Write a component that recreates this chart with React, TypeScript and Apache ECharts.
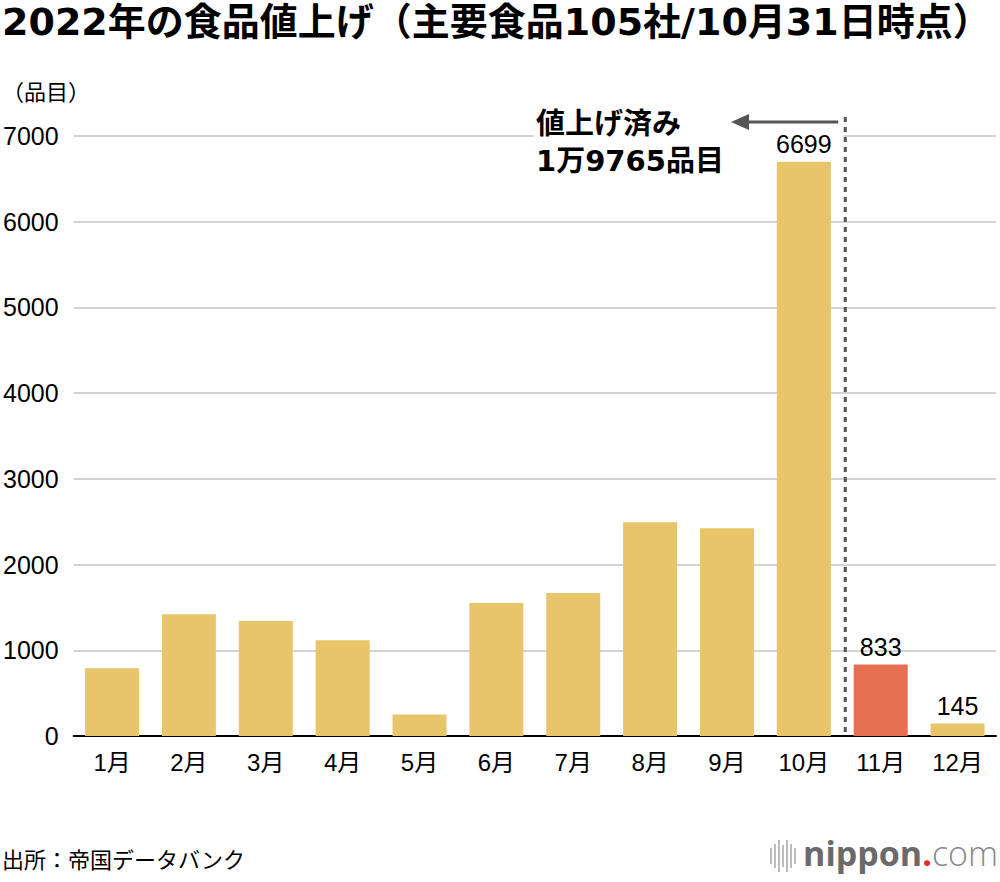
import { useEffect, useRef } from "react";
import * as echarts from "echarts";

const months = ["1月", "2月", "3月", "4月", "5月", "6月", "7月", "8月", "9月", "10月", "11月", "12月"];
const items = [790, 1420, 1342, 1117, 250, 1552, 1669, 2494, 2424, 6699, 833, 145];
const labelledMonths = ["10月", "11月", "12月"];
const highlightMonth = "11月";
const yTicks = { min: 0, max: 7000, interval: 1000 };

const FONT = "'Liberation Sans', 'Noto Sans CJK JP', sans-serif";
const BOLD_FONT = "'DejaVu Sans', 'Noto Sans CJK JP', sans-serif";
const BAR = "#E8C46B";
const RED = "#E57052";

export default function App() {
  const chartRef = useRef<HTMLDivElement>(null);

  useEffect(() => {
    document.body.style.margin = "0";
    const chart = echarts.init(chartRef.current!, null, { renderer: "svg" });

    const option = {
      animation: false,
      textStyle: { fontFamily: FONT },
      grid: { left: 72, right: 4, top: 136, bottom: 146, containLabel: false },
      xAxis: {
        type: "category",
        data: months,
        axisLine: { lineStyle: { color: "#000", width: 2 } },
        axisTick: { show: false },
        axisLabel: { fontSize: 24, color: "#000", margin: 14, fontFamily: FONT },
      },
      yAxis: {
        type: "value",
        ...yTicks,
        axisLine: { show: false },
        axisTick: { show: false },
        axisLabel: {
          fontSize: 25,
          color: "#000",
          margin: 15,
          fontFamily: FONT,
          formatter: (v: number) => String(v),
        },
        splitLine: { lineStyle: { color: "#d4d4d4", width: 2 } },
      },
      series: [
        {
          type: "bar",
          barWidth: 54,
          data: items.map((v, i) => ({
            value: v,
            itemStyle: { color: months[i] === highlightMonth ? RED : BAR },
            label: { show: labelledMonths.includes(months[i]) },
          })),
          label: {
            position: "top",
            distance: 5,
            fontSize: 25,
            color: "#000",
            fontFamily: FONT,
          },
        },
      ],
    };

    chart.setOption(option);

    // divider between October and November
    const p10 = chart.convertToPixel({ xAxisIndex: 0 }, "10月") as number;
    const p11 = chart.convertToPixel({ xAxisIndex: 0 }, "11月") as number;
    const y0 = chart.convertToPixel({ yAxisIndex: 0 }, 0) as number;
    const divX = (p10 + p11) / 2 + 3;

    const iconBars = [
      [0, 16], [4, 24], [8, 32], [12, 22], [16, 32], [20, 24], [24, 16],
    ];

    chart.setOption({
      graphic: [
        {
          type: "text",
          left: 2,
          top: 2,
          style: {
            text: "2022年の食品値上げ（主要食品105社/10月31日時点）",
            fontSize: 38,
            lineHeight: 40,
            fontWeight: "bold",
            fill: "#000",
            fontFamily: BOLD_FONT,
          },
        },
        {
          type: "text",
          left: 2,
          top: 81,
          style: { text: "（品目）", fontSize: 22, fill: "#000", fontFamily: FONT },
        },
        {
          type: "rect",
          z: 1,
          shape: { x: 534, y: 110, width: divX - 536, height: 30 },
          style: { fill: "#fff" },
        },
        {
          type: "line",
          z: 6,
          shape: { x1: divX, y1: 117, x2: divX, y2: y0 },
          style: { stroke: "#555", lineWidth: 3, lineDash: [5, 5] },
        },
        {
          type: "line",
          z: 6,
          shape: { x1: divX - 7, y1: 122, x2: 745, y2: 122 },
          style: { stroke: "#555", lineWidth: 3 },
        },
        {
          type: "polygon",
          z: 6,
          shape: { points: [[731, 122], [749, 114], [749, 130]] },
          style: { fill: "#555" },
        },
        {
          type: "text",
          z: 7,
          left: 536,
          top: 105,
          style: {
            text: "値上げ済み\n1万9765品目",
            fontSize: 29,
            fontWeight: "bold",
            lineHeight: 37,
            fill: "#000",
            fontFamily: BOLD_FONT,
          },
        },
        {
          type: "text",
          left: 2,
          top: 849,
          style: { text: "出所：帝国データバンク", fontSize: 22, fill: "#000", fontFamily: FONT },
        },
        {
          type: "group",
          left: 770,
          top: 840,
          children: iconBars.map(([x, h]) => ({
            type: "rect",
            shape: { x, y: (32 - h) / 2, width: 2, height: h },
            style: { fill: "#bbb" },
          })),
        },
        {
          type: "text",
          right: 2,
          top: 836,
          style: {
            text: "{a|nippon}{b|.}{c|com}",
            rich: {
              a: { fontSize: 34, fontWeight: "bold", fill: "#6a6a6a", fontFamily: "'Open Sans', sans-serif" },
              b: { fontSize: 34, fill: "#e8262b", fontFamily: "'Open Sans', sans-serif", fontWeight: "bold" },
              c: { fontSize: 34, fill: "#8a8a8a", fontFamily: "'Open Sans', sans-serif", fontWeight: 300 },
            },
          },
        },
      ],
    });

    const handleResize = () => chart.resize();
    window.addEventListener("resize", handleResize);
    return () => {
      window.removeEventListener("resize", handleResize);
      chart.dispose();
    };
  }, []);

  return <div ref={chartRef} style={{ width: "1000px", height: "882px" }} />;
}
